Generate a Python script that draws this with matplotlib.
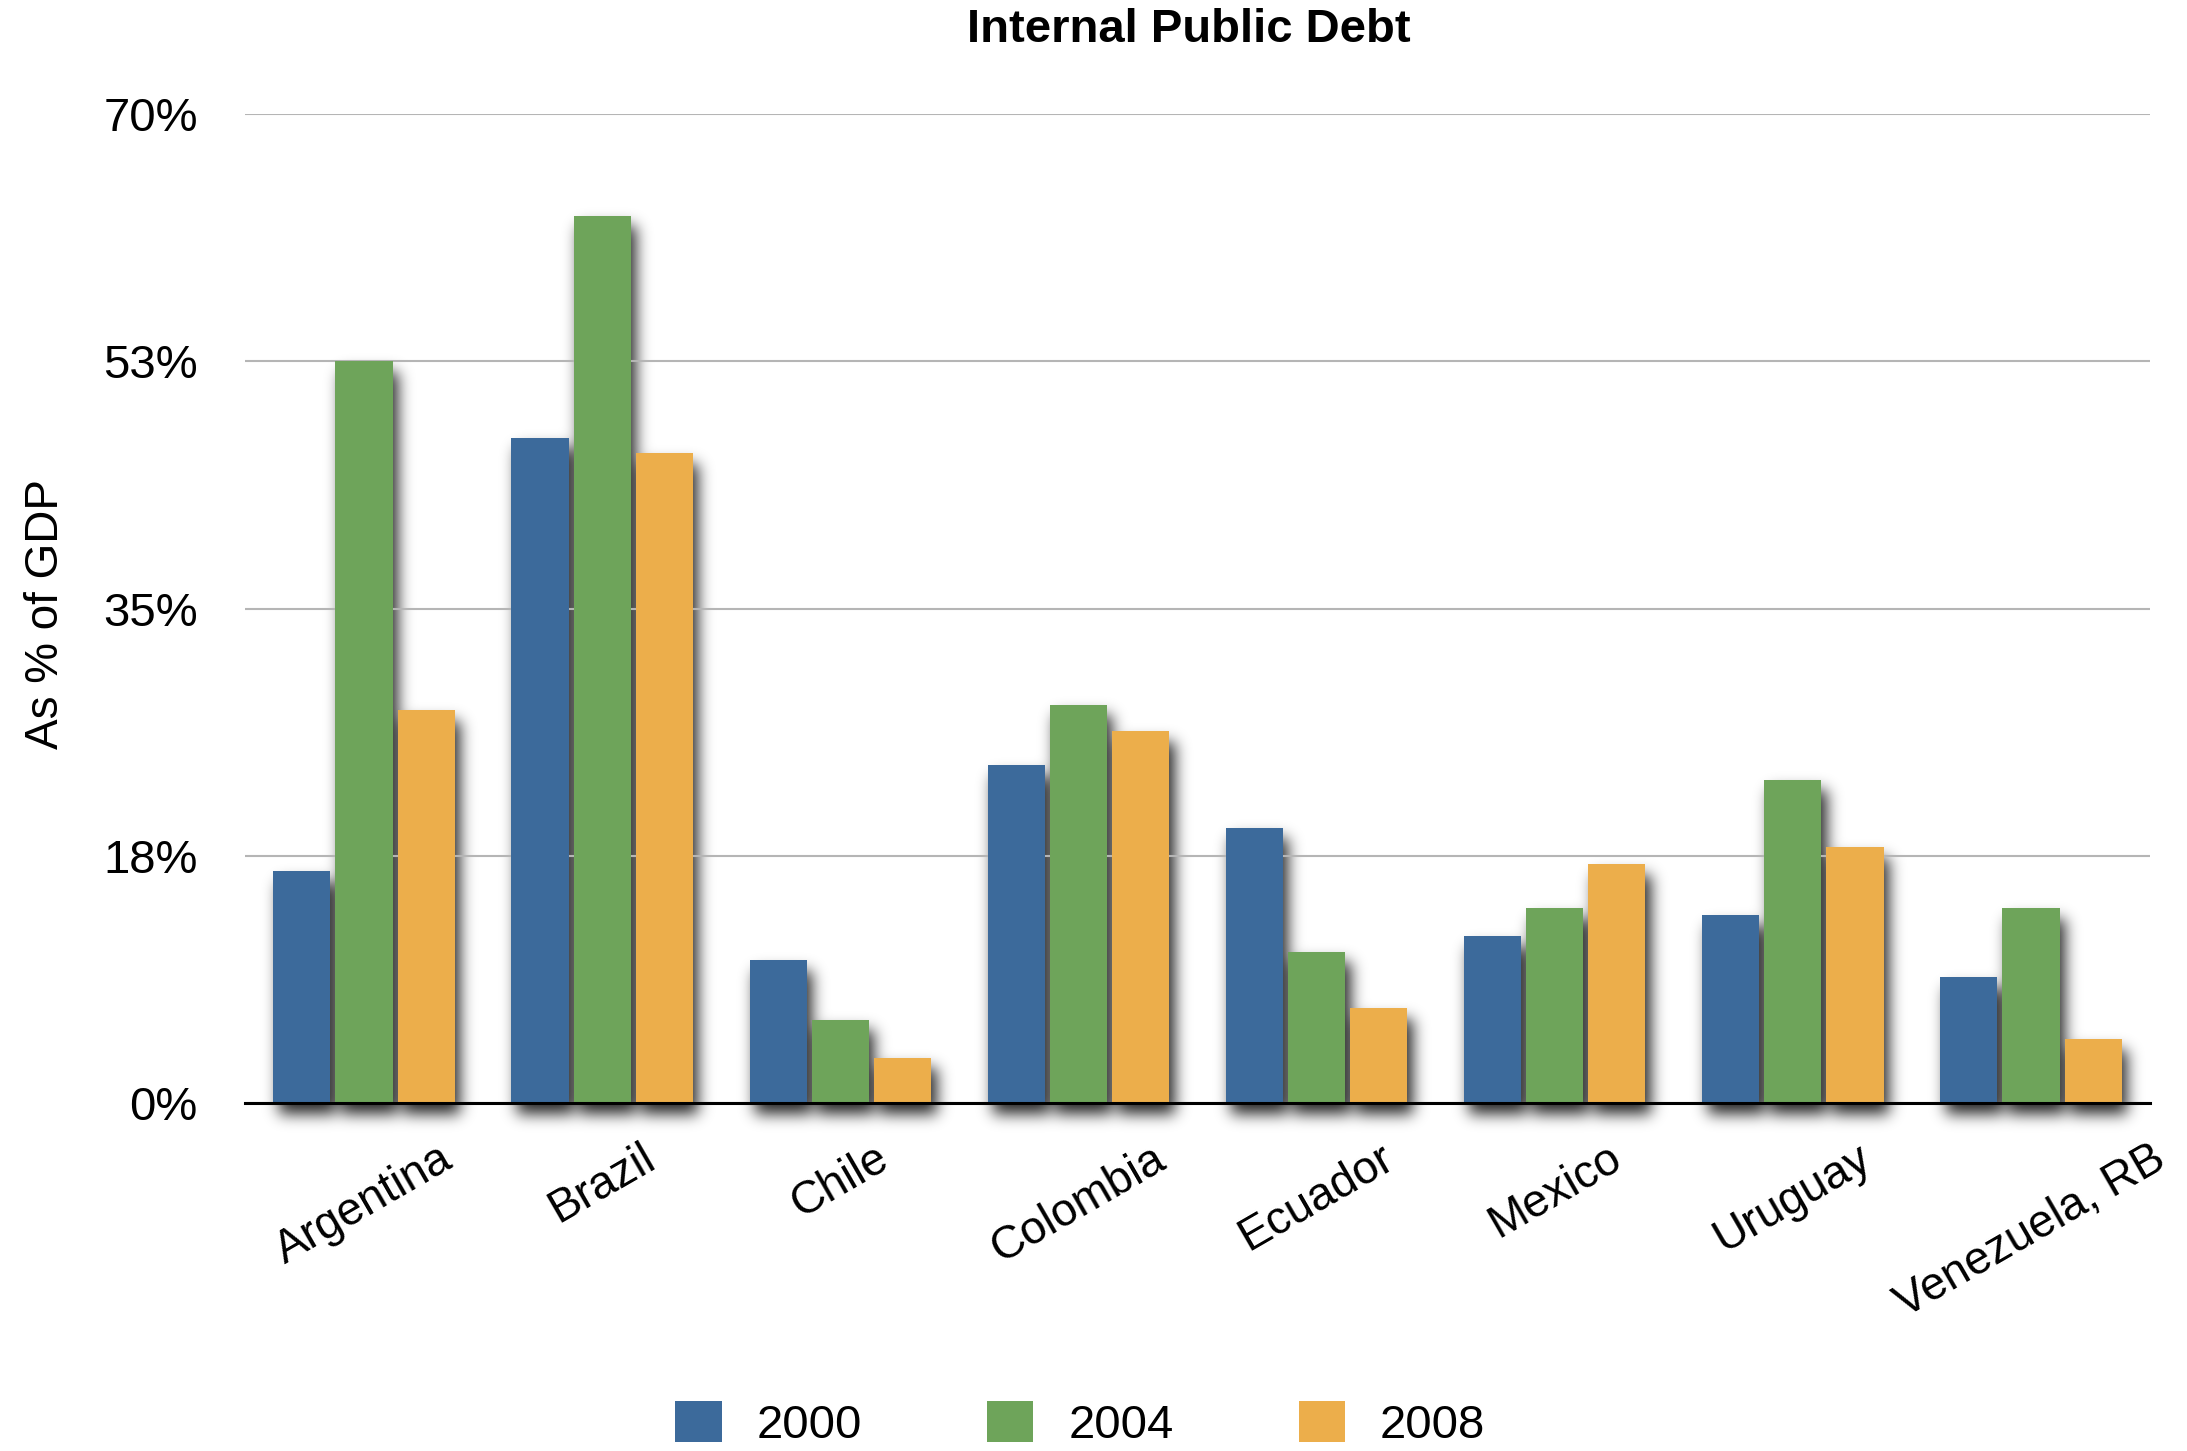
import numpy as np
import matplotlib
matplotlib.use('Agg')
import matplotlib.pyplot as plt
from matplotlib import font_manager

countries = ['Argentina', 'Brazil', 'Chile', 'Colombia', 'Ecuador',
             'Mexico', 'Uruguay', 'Venezuela, RB']
years = ['2000', '2004', '2008']
debt_2000 = [16.4, 47.1, 10.1, 23.9, 19.5, 11.8, 13.3, 8.9]
debt_2004 = [52.5, 62.8, 5.9, 28.2, 10.7, 13.8, 22.9, 13.8]
debt_2008 = [27.8, 46.0, 3.2, 26.3, 6.7, 16.9, 18.1, 4.5]
y_ticks = [0, 17.5, 35, 52.5, 70]
y_tick_labels = ['0%', '18%', '35%', '53%', '70%']

colors = ['#3c6a9b', '#6ea45a', '#ecae4b']


def pick_font(names):
    for n in names:
        try:
            font_manager.findfont(font_manager.FontProperties(family=n),
                                  fallback_to_default=False)
            return n
        except Exception:
            pass
    return 'DejaVu Sans'


plt.rcParams['font.family'] = pick_font(['Liberation Sans', 'Arial', 'DejaVu Sans'])


def blur(a, sigma):
    r = int(3 * sigma)
    x = np.arange(-r, r + 1)
    k = np.exp(-x ** 2 / (2.0 * sigma ** 2))
    k /= k.sum()
    a = np.apply_along_axis(lambda m: np.convolve(m, k, mode='same'), 0, a)
    a = np.apply_along_axis(lambda m: np.convolve(m, k, mode='same'), 1, a)
    return a


if __name__ == '__main__':
    W, H = 2187, 1451
    fig = plt.figure(figsize=(W / 100.0, H / 100.0), dpi=100)
    ax = fig.add_axes([0.1120, 0.2398, 0.8711, 0.6816], zorder=1)
    ax.set_facecolor('none')

    x = np.arange(len(countries))
    width = 0.24
    step = 0.261
    bars = []
    for i, (vals, lab) in enumerate(zip([debt_2000, debt_2004, debt_2008], years)):
        b = ax.bar(x + (i - 1) * step, vals, width, color=colors[i], label=lab,
                   zorder=3)
        bars.append(b)

    ax.set_xlim(-0.5, len(countries) - 0.5)
    ax.set_ylim(0, 70)
    ax.set_yticks(y_ticks)
    ax.set_yticklabels(y_tick_labels, fontsize=34)
    ax.set_xticks(x)
    ax.set_xticklabels(countries, fontsize=33, rotation=30, ha='center')
    ax.tick_params(axis='y', length=0, pad=34)
    ax.tick_params(axis='x', length=0, pad=24)
    ax.yaxis.grid(True, color='#b5b5b5', linewidth=1.5, zorder=0)
    ax.set_axisbelow(True)
    for s in ['top', 'right', 'left']:
        ax.spines[s].set_visible(False)
    ax.spines['bottom'].set_linewidth(2.2)
    ax.spines['bottom'].set_color('black')
    ax.spines['bottom'].set_zorder(4)

    # soft drop shadow behind the bars
    mask = np.zeros((H, W))
    for b in bars:
        for p in b.patches:
            e = p.get_window_extent()
            x0, x1 = int(e.x0 + 6), int(e.x1 + 6)
            y0, y1 = int(e.y0 - 10), int(e.y1 - 10)
            mask[max(y0, 0):y1, max(x0, 0):x1] = 1.0
    shade = blur(mask, 7.5)
    rgba = np.zeros((H, W, 4))
    rgba[..., 3] = np.clip(shade * 0.85, 0, 1)
    fig.figimage(rgba, xo=0, yo=0, origin='lower', zorder=0)

    fig.text(0.5437, 1 - 30.0 / H, 'Internal Public Debt', fontsize=34,
             fontweight='bold', ha='center', va='center')
    fig.text(0.021, 1 - 614.0 / H, 'As % of GDP', fontsize=33,
             rotation=90, ha='center', va='center')

    fig.legend(handles=bars, labels=years, loc='center',
               bbox_to_anchor=(0.494, 0.0186), ncol=3, frameon=False,
               fontsize=34, handlelength=0.98, handleheight=0.98,
               handletextpad=0.74, columnspacing=2.65)

    fig.savefig('out.png', dpi=100, facecolor='white')
